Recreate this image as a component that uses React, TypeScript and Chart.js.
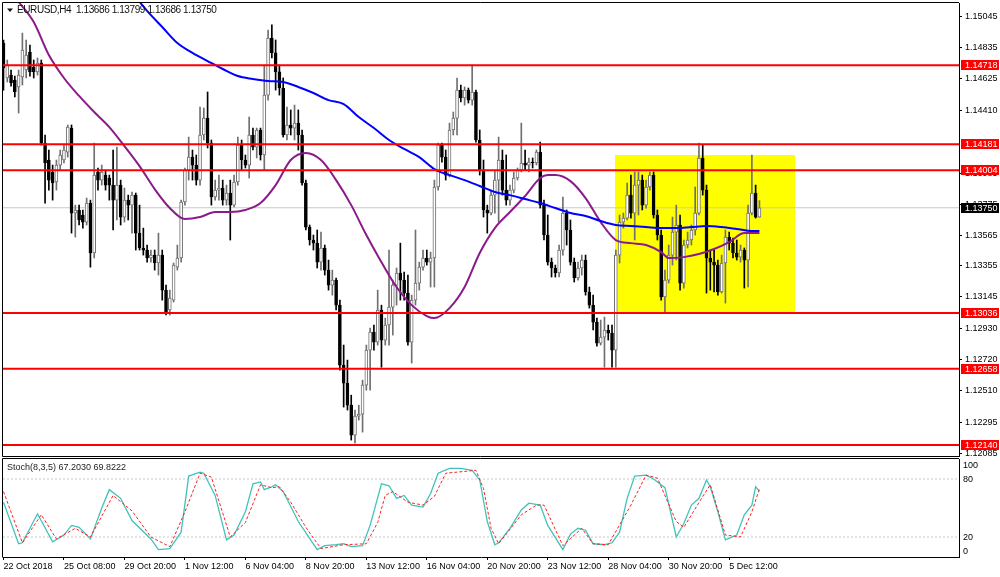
import React, { useEffect, useRef } from "react";
import { Chart, registerables } from "chart.js";

Chart.register(...registerables);

const FONT = "'Liberation Sans', Arial, sans-serif";

// ---- candle data (EURUSD H4) ----
const OPEN = [
  1.14868, 1.14631, 1.14651, 1.14617, 1.1457, 1.14638, 1.14685, 1.14807, 1.14705, 1.14672,
  1.14733, 1.14189, 1.14074, 1.13993, 1.13925, 1.1404, 1.14074, 1.14128, 1.14291, 1.13714,
  1.13735, 1.13701, 1.13653, 1.13782, 1.13443, 1.13993, 1.13938, 1.13972, 1.13952, 1.13904,
  1.13802, 1.13904, 1.13687, 1.13802, 1.13768, 1.13836, 1.13578, 1.13477, 1.13463, 1.13409,
  1.13429, 1.13375, 1.13429, 1.13191, 1.13056, 1.13123, 1.13347, 1.13409, 1.13789, 1.14006,
  1.14094, 1.1404, 1.13938, 1.14244, 1.14359, 1.14189, 1.13823, 1.1387, 1.13884, 1.13802,
  1.1385, 1.13768, 1.13925, 1.14176, 1.14074, 1.1404, 1.14244, 1.14162, 1.14278, 1.14108,
  1.14515, 1.14902, 1.14801, 1.14672, 1.14563, 1.14244, 1.14312, 1.14291, 1.14325, 1.14244,
  1.13918, 1.13619, 1.13531, 1.1351, 1.13381, 1.13477, 1.13327, 1.13225, 1.13259, 1.13089,
  1.12682, 1.1256, 1.1241, 1.12207, 1.12336, 1.12349, 1.12546, 1.12784, 1.12906, 1.12838,
  1.13056, 1.12852, 1.12954, 1.13076, 1.13225, 1.13307, 1.13259, 1.13171, 1.12838, 1.13123,
  1.13239, 1.13347, 1.13409, 1.13381, 1.13409, 1.13891, 1.14176, 1.14094, 1.13972, 1.14278,
  1.14359, 1.14549, 1.14495, 1.14549, 1.14481, 1.14536, 1.1421, 1.14006, 1.13735, 1.13714,
  1.13836, 1.13938, 1.14074, 1.1387, 1.13802, 1.1387, 1.13952, 1.14006, 1.14054, 1.1404,
  1.1406, 1.14054, 1.14128, 1.13768, 1.13565, 1.13381, 1.13341, 1.13307, 1.13463, 1.13714,
  1.13599, 1.13381, 1.13273, 1.13341, 1.13395, 1.13178, 1.13089, 1.12974, 1.12831, 1.12872,
  1.1292, 1.12899, 1.12784, 1.13429, 1.13653, 1.1368, 1.13836, 1.13714, 1.13904, 1.13938,
  1.13768, 1.13891, 1.13972, 1.13701, 1.13565, 1.13144, 1.13259, 1.13429, 1.13585, 1.13633,
  1.13239, 1.13497, 1.13531, 1.13599, 1.13714, 1.14088, 1.1387, 1.13409, 1.13381, 1.13361,
  1.13178, 1.13375, 1.13551, 1.1351, 1.13443, 1.13415, 1.13463, 1.13395, 1.13714, 1.1385,
  1.13686,
];
const HIGH = [
  1.14889, 1.14753, 1.14685, 1.14644, 1.14685, 1.14936, 1.14889, 1.14855, 1.14753, 1.14767,
  1.14753, 1.14244, 1.14142, 1.1404, 1.14074, 1.14142, 1.14176, 1.14312, 1.14312, 1.13768,
  1.13768, 1.13735, 1.13816, 1.13802, 1.14189, 1.1402, 1.1404, 1.14006, 1.13972, 1.14142,
  1.14162, 1.13938, 1.13884, 1.13836, 1.13857, 1.1385, 1.13768, 1.13612, 1.13497, 1.13463,
  1.13463, 1.13578, 1.13463, 1.13225, 1.13191, 1.13375, 1.13497, 1.13802, 1.1402, 1.1423,
  1.14142, 1.14108, 1.14434, 1.14427, 1.14536, 1.1421, 1.13938, 1.13972, 1.13938, 1.13904,
  1.13938, 1.13972, 1.1423, 1.1421, 1.14108, 1.14366, 1.14291, 1.14291, 1.14291, 1.14719,
  1.14957, 1.14991, 1.14889, 1.14719, 1.14631, 1.14434, 1.14414, 1.14447, 1.14414, 1.14278,
  1.13938, 1.13633, 1.13565, 1.13599, 1.13585, 1.13497, 1.13395, 1.13327, 1.13273, 1.13123,
  1.12818, 1.12716, 1.12478, 1.12377, 1.1241, 1.1258, 1.12818, 1.12933, 1.12954, 1.13191,
  1.13089, 1.13001, 1.13463, 1.13259, 1.13341, 1.1351, 1.13314, 1.13293, 1.13157, 1.13599,
  1.13381, 1.13463, 1.13463, 1.13449, 1.13938, 1.14189, 1.14189, 1.14142, 1.14325, 1.144,
  1.14631, 1.14583, 1.1457, 1.14563, 1.14719, 1.14549, 1.14278, 1.14074, 1.13768, 1.1387,
  1.14006, 1.1423, 1.14142, 1.14108, 1.13904, 1.13993, 1.1402, 1.14325, 1.14142, 1.14088,
  1.14088, 1.14142, 1.14196, 1.13802, 1.13701, 1.13409, 1.13361, 1.13497, 1.13823, 1.13735,
  1.13667, 1.13409, 1.13381, 1.13429, 1.13429, 1.13212, 1.13157, 1.13001, 1.12988, 1.13008,
  1.12954, 1.12954, 1.13463, 1.13701, 1.13714, 1.13918, 1.13972, 1.13993, 1.13993, 1.13972,
  1.13938, 1.13993, 1.13993, 1.13735, 1.13599, 1.13327, 1.13497, 1.13687, 1.13768, 1.13701,
  1.13531, 1.13585, 1.13633, 1.13891, 1.14189, 1.14176, 1.13904, 1.13463, 1.13463, 1.13395,
  1.13429, 1.13599, 1.13585, 1.13544, 1.13531, 1.13497, 1.13477, 1.13768, 1.14108, 1.13904,
  1.13799,
];
const LOW = [
  1.14549, 1.14604, 1.14576, 1.14502, 1.14393, 1.14583, 1.14631, 1.14644, 1.14631, 1.14651,
  1.14176, 1.13782, 1.1387, 1.13802, 1.1387, 1.14006, 1.14054, 1.14094, 1.13578, 1.13551,
  1.13633, 1.13612, 1.13633, 1.13347, 1.13409, 1.1387, 1.13904, 1.1387, 1.13802, 1.13599,
  1.13667, 1.13633, 1.13653, 1.13667, 1.13578, 1.13463, 1.13463, 1.13429, 1.13381, 1.13381,
  1.13327, 1.13293, 1.13123, 1.13022, 1.13022, 1.1311, 1.13327, 1.13381, 1.13768, 1.13938,
  1.13938, 1.13904, 1.13904, 1.1421, 1.14156, 1.13768, 1.13802, 1.13802, 1.13768, 1.13768,
  1.13531, 1.13755, 1.13904, 1.14006, 1.1402, 1.13952, 1.14142, 1.14088, 1.14074, 1.14006,
  1.14481, 1.14767, 1.14549, 1.14515, 1.1423, 1.1421, 1.14244, 1.1421, 1.14142, 1.13904,
  1.13599, 1.13497, 1.13463, 1.13341, 1.13327, 1.13293, 1.13191, 1.13157, 1.13056, 1.12648,
  1.12397, 1.12377, 1.12173, 1.12152, 1.12309, 1.12227, 1.12512, 1.12512, 1.12784, 1.12818,
  1.12668, 1.12818, 1.12818, 1.12886, 1.13089, 1.13123, 1.13123, 1.12818, 1.12696, 1.13089,
  1.13191, 1.13327, 1.13361, 1.13212, 1.13212, 1.1387, 1.1406, 1.13938, 1.13959, 1.14244,
  1.14244, 1.14468, 1.14447, 1.14461, 1.14447, 1.14196, 1.13972, 1.13687, 1.13578, 1.13701,
  1.13714, 1.13653, 1.13836, 1.13768, 1.13768, 1.1385, 1.13938, 1.13993, 1.14006, 1.13993,
  1.1402, 1.1404, 1.13748, 1.13531, 1.13361, 1.1328, 1.1328, 1.1328, 1.13429, 1.13497,
  1.13361, 1.13246, 1.13259, 1.13293, 1.13157, 1.13069, 1.1292, 1.12811, 1.12818, 1.12668,
  1.12852, 1.12668, 1.12668, 1.13375, 1.13612, 1.13667, 1.1368, 1.13531, 1.13701, 1.13735,
  1.13748, 1.1387, 1.1368, 1.13531, 1.13123, 1.13042, 1.13239, 1.13361, 1.13395, 1.13191,
  1.13205, 1.13477, 1.13497, 1.13565, 1.13701, 1.13836, 1.13171, 1.13191, 1.13178, 1.13157,
  1.13171, 1.13103, 1.13463, 1.13409, 1.13395, 1.13381, 1.13205, 1.13212, 1.13701, 1.1368,
  1.13686,
];
const CLOSE = [
  1.14699, 1.14719, 1.14597, 1.14536, 1.14651, 1.14821, 1.14787, 1.14672, 1.14672, 1.14733,
  1.14189, 1.14054, 1.13938, 1.13918, 1.1404, 1.14108, 1.14142, 1.14298, 1.13714, 1.13735,
  1.13667, 1.13653, 1.13782, 1.13443, 1.13972, 1.13938, 1.13993, 1.13904, 1.13904, 1.13802,
  1.13904, 1.13687, 1.13802, 1.13768, 1.13836, 1.13578, 1.13477, 1.13463, 1.13409, 1.13429,
  1.13375, 1.13429, 1.13191, 1.13042, 1.13137, 1.13361, 1.13409, 1.13789, 1.14006, 1.14094,
  1.1404, 1.13938, 1.14244, 1.14359, 1.14189, 1.13823, 1.1387, 1.13884, 1.13802, 1.1385,
  1.13768, 1.13925, 1.14176, 1.14074, 1.1404, 1.14244, 1.14162, 1.14278, 1.14108, 1.14515,
  1.14902, 1.14801, 1.14672, 1.14563, 1.14244, 1.14312, 1.14291, 1.14325, 1.14244, 1.13918,
  1.13619, 1.13531, 1.1351, 1.13381, 1.13477, 1.13327, 1.13225, 1.13259, 1.13089, 1.12682,
  1.1256, 1.1241, 1.12207, 1.12336, 1.12349, 1.12546, 1.12784, 1.12906, 1.12838, 1.13056,
  1.12852, 1.12954, 1.13076, 1.13225, 1.13307, 1.13259, 1.13171, 1.12838, 1.13123, 1.13239,
  1.13347, 1.13409, 1.13381, 1.13409, 1.13891, 1.14176, 1.14094, 1.13972, 1.14278, 1.14359,
  1.14549, 1.14495, 1.14549, 1.14481, 1.14536, 1.1421, 1.14006, 1.13735, 1.13714, 1.13836,
  1.13938, 1.14074, 1.1387, 1.13802, 1.1387, 1.13952, 1.14006, 1.14054, 1.1404, 1.1406,
  1.14054, 1.14128, 1.13768, 1.13565, 1.13381, 1.13341, 1.13307, 1.13463, 1.13714, 1.13599,
  1.13381, 1.13273, 1.13341, 1.13395, 1.13178, 1.13089, 1.12974, 1.12831, 1.12872, 1.1292,
  1.12899, 1.12784, 1.13429, 1.13653, 1.1368, 1.13836, 1.13714, 1.13904, 1.13938, 1.13768,
  1.13891, 1.13972, 1.13701, 1.13565, 1.13144, 1.13259, 1.13429, 1.13585, 1.13633, 1.13239,
  1.13497, 1.13531, 1.13599, 1.13714, 1.14088, 1.1387, 1.13409, 1.13381, 1.13361, 1.13178,
  1.13375, 1.13551, 1.1351, 1.13443, 1.13415, 1.13463, 1.13395, 1.13714, 1.1385, 1.13687,
  1.1375,
];

// ---- moving averages (sampled at bar indexes) ----
const MA_BLUE_IDX = [
  34, 38, 42, 46, 50, 54, 58, 62, 66, 70, 74, 78, 82, 86, 90, 94, 98, 102, 106, 110, 114, 118,
  122, 126, 130, 134, 138, 142, 146, 150, 154, 158, 162, 166, 170, 174, 178, 182, 186, 190, 194,
  198, 200,
];
const MA_BLUE = [
  1.15214, 1.15086, 1.14977, 1.14868, 1.14801, 1.14746, 1.14692, 1.14644, 1.14624, 1.1461,
  1.14604, 1.1457, 1.14529, 1.14481, 1.14454, 1.14366, 1.14291, 1.1421, 1.14149, 1.14094,
  1.14013, 1.13972, 1.13938, 1.13898, 1.13857, 1.13836, 1.13809, 1.13782, 1.13748, 1.13714,
  1.13694, 1.1366, 1.13633, 1.13626, 1.13619, 1.13612, 1.13612, 1.13619, 1.13626, 1.13619,
  1.13606, 1.13592, 1.13592,
];
const MA_PURPLE_IDX = [
  0, 4, 8, 12, 16, 20, 24, 28, 32, 36, 40, 44, 48, 52, 56, 60, 64, 68, 72, 76, 80, 84, 88, 92,
  96, 100, 104, 108, 112, 114, 118, 122, 126, 130, 134, 138, 142, 144, 146, 150, 154, 158, 162,
  166, 170, 174, 176, 180, 184, 188, 192, 196, 200,
];
const MA_PURPLE = [
  1.15262, 1.15147, 1.15011, 1.14787, 1.14631, 1.14509, 1.144, 1.14298, 1.14169, 1.14033,
  1.13877, 1.13748, 1.13673, 1.13687, 1.13721, 1.13721, 1.13735, 1.13782, 1.13904, 1.14074,
  1.14122, 1.14074, 1.13938, 1.13768, 1.13565, 1.13381, 1.13212, 1.13089, 1.13015, 1.13001,
  1.13069, 1.13212, 1.13443, 1.13612, 1.13721, 1.1383, 1.13952, 1.13972, 1.13972, 1.13931,
  1.13816, 1.13653, 1.13531, 1.1351, 1.13497, 1.13449, 1.13409, 1.13415, 1.13436, 1.1347,
  1.13517, 1.13578, 1.13578,
];

// ---- stochastic (8,3,5) ----
const STOCH_K_IDX = [
  0, 4, 5, 9, 13, 16, 18, 20, 23, 26, 28, 31, 34, 39, 41, 44, 47, 49, 52, 53, 56, 59, 61, 64,
  66, 68, 69, 71, 72, 74, 78, 83, 85, 88, 90, 92, 95, 97, 100, 102, 104, 106, 108, 111, 113,
  115, 118, 121, 124, 126, 128, 130, 131, 134, 137, 139, 142, 144, 148, 150, 152, 154, 156,
  159, 161, 163, 165, 167, 170, 172, 175, 178, 180, 182, 184, 186, 187, 189, 191, 194, 196,
  198, 199, 200,
];
const STOCH_K = [
  56, 13, 14, 44, 15, 22, 32, 30, 18, 50, 69, 60, 37, 18, 7, 8, 25, 83, 87, 86, 63, 17, 22, 46,
  75, 77, 69, 72, 74, 67, 36, 7, 11, 12, 13, 10, 11, 32, 75, 73, 60, 63, 53, 51, 65, 86, 91, 91,
  89, 79, 36, 12, 14, 29, 48, 55, 53, 32, 7, 23, 29, 27, 13, 12, 14, 25, 60, 83, 84, 80, 71, 20,
  34, 53, 60, 79, 72, 46, 17, 22, 43, 53, 72, 67.203,
];
const STOCH_D_IDX = [
  0, 5, 10, 14, 19, 23, 29, 34, 39, 44, 48, 52, 55, 60, 64, 68, 71, 73, 76, 80, 84, 90, 96, 99,
  101, 103, 107, 111, 114, 117, 125, 127, 129, 131, 137, 141, 143, 148, 153, 156, 160, 166, 170,
  173, 178, 180, 185, 187, 191, 195, 198, 200,
];
const STOCH_D = [
  67, 14, 43, 18, 29, 20, 63, 47, 20, 10, 46, 86, 82, 20, 35, 74, 71, 72, 56, 30, 8, 12, 13, 35,
  63, 67, 56, 53, 62, 86, 89, 70, 29, 13, 43, 53, 53, 11, 29, 13, 12, 53, 84, 81, 36, 30, 62, 74,
  22, 20, 46, 69.8222,
];
const STOCH_LEVELS = [80, 20];
const STOCH_AXIS_LABELS = [100, 80, 20, 0];

// ---- levels, ticks, labels ----
const LEVELS = [1.14718, 1.14181, 1.14004, 1.13036, 1.12658, 1.1214];
const CURRENT_PRICE = 1.1375;
const PRICE_TICKS = [
  1.15045, 1.14835, 1.14625, 1.1441, 1.13985, 1.13775, 1.13565, 1.13355, 1.13145,
  1.1293, 1.1272, 1.1251, 1.12295, 1.12085,
];
const TIME_TICK_IDX = [0, 16, 32, 48, 64, 80, 96, 112, 128, 144, 160, 176, 192];
const TIME_LABELS = [
  "22 Oct 2018", "25 Oct 08:00", "29 Oct 20:00", "1 Nov 12:00", "6 Nov 04:00", "8 Nov 20:00",
  "13 Nov 12:00", "16 Nov 04:00", "20 Nov 20:00", "23 Nov 12:00", "28 Nov 04:00",
  "30 Nov 20:00", "5 Dec 12:00",
];
const BOX_X = [161.8, 209.5];
const BOX_PRICE = [1.14108, 1.13042];
const TITLE = "EURUSD,H4  1.13686 1.13799 1.13686 1.13750";
const STOCH_TITLE = "Stoch(8,3,5) 67.2030 69.8222";

const X_MIN = -0.13;
const X_MAX = 252.8;
const Y_MIN = 1.12065;
const Y_MAX = 1.1514;
const S_MIN = -0.7;
const S_MAX = 100.7;

const BULL_GRAY = "#707070";

const mainDecor = {
  id: "mainDecor",
  beforeDatasetsDraw(chart: any) {
    const { ctx, chartArea: ca } = chart;
    const xs = chart.scales.x;
    const ys = chart.scales.y;
    ctx.save();
    ctx.beginPath();
    ctx.rect(ca.left, ca.top, ca.right - ca.left, ca.bottom - ca.top);
    ctx.clip();
    const l = Math.round(xs.getPixelForValue(BOX_X[0]));
    const r = Math.round(xs.getPixelForValue(BOX_X[1]));
    const t = Math.round(ys.getPixelForValue(BOX_PRICE[0]));
    const b = Math.round(ys.getPixelForValue(BOX_PRICE[1]));
    ctx.fillStyle = "#ffff00";
    ctx.fillRect(l, t, r - l, b - t);
    ctx.restore();
  },
  afterDraw(chart: any) {
    const { ctx, chartArea: ca } = chart;
    const ys = chart.scales.y;
    ctx.save();
    ctx.strokeStyle = "#000";
    ctx.lineWidth = 1;
    ctx.beginPath();
    ctx.moveTo(ca.right, ca.top - 0.5);
    ctx.lineTo(ca.left - 0.5, ca.top - 0.5);
    ctx.lineTo(ca.left - 0.5, ca.bottom + 0.5);
    ctx.lineTo(ca.right, ca.bottom + 0.5);
    ctx.stroke();

    const box = (v: number, bg: string) => {
      const py = Math.round(ys.getPixelForValue(v));
      ctx.fillStyle = bg;
      ctx.fillRect(ca.right + 2, py - 5, 38, 10);
      ctx.fillStyle = "#fff";
      ctx.font = `9px ${FONT}`;
      ctx.textBaseline = "middle";
      ctx.textAlign = "left";
      ctx.fillText(v.toFixed(5), ca.right + 6, py + 0.5);
    };
    LEVELS.forEach((v) => box(v, "#ff0000"));
    box(CURRENT_PRICE, "#000000");

    // title
    ctx.fillStyle = "#111";
    ctx.beginPath();
    ctx.moveTo(7, 8.5);
    ctx.lineTo(13, 8.5);
    ctx.lineTo(10, 12);
    ctx.closePath();
    ctx.fill();
    ctx.font = `10px ${FONT}`;
    ctx.textBaseline = "middle";
    ctx.textAlign = "left";
    (ctx as any).letterSpacing = "-0.4px";
    ctx.fillText(TITLE, 17, 10.5);
    (ctx as any).letterSpacing = "0px";
    ctx.restore();
  },
};

const stochDecor = {
  id: "stochDecor",
  afterDraw(chart: any) {
    const { ctx, chartArea: ca } = chart;
    const ys = chart.scales.y;
    ctx.save();
    ctx.strokeStyle = "#000";
    ctx.lineWidth = 1;
    ctx.beginPath();
    ctx.moveTo(ca.right, ca.top - 0.5);
    ctx.lineTo(ca.left - 0.5, ca.top - 0.5);
    ctx.lineTo(ca.left - 0.5, ca.bottom + 0.5);
    ctx.stroke();
    ctx.fillStyle = "#222";
    ctx.font = `9px ${FONT}`;
    ctx.textBaseline = "middle";
    ctx.textAlign = "left";
    ctx.fillText(STOCH_TITLE, 7, ca.top + 8.5);
    ctx.fillStyle = "#000";
    STOCH_AXIS_LABELS.forEach((v) => {
      let py = ys.getPixelForValue(v);
      py = Math.max(ca.top + 6, Math.min(ca.bottom - 6, py));
      ctx.fillText(String(v), ca.right + 4, py + 0.5);
    });
    ctx.restore();
  },
};

export default function App() {
  const mainRef = useRef<HTMLCanvasElement>(null);
  const stochRef = useRef<HTMLCanvasElement>(null);

  useEffect(() => {
    const idx = OPEN.map((_, i) => i);
    const bull = (i: number) => CLOSE[i] >= OPEN[i];

    const wickData = idx.map((i) => ({ x: i, y: [LOW[i], HIGH[i]] }));
    const bodyData = idx.map((i) => ({ x: i, y: [OPEN[i], CLOSE[i]] }));
    const hLine = (v: number) => [
      { x: X_MIN, y: v },
      { x: X_MAX, y: v },
    ];

    const levelSets = LEVELS.map((v) => ({
      type: "line",
      data: hLine(v),
      borderColor: "#ff0000",
      borderWidth: 2,
      pointRadius: 0,
      order: 0,
    }));

    const main = new Chart(mainRef.current as HTMLCanvasElement, {
      type: "bar",
      data: {
        datasets: [
          ...levelSets,
          {
            type: "line",
            data: MA_BLUE_IDX.map((x, k) => ({ x, y: MA_BLUE[k] })),
            borderColor: "#0000ff",
            borderWidth: 2,
            pointRadius: 0,
            cubicInterpolationMode: "monotone",
            order: 1,
          },
          {
            type: "line",
            data: MA_PURPLE_IDX.map((x, k) => ({ x, y: MA_PURPLE[k] })),
            borderColor: "#8b1a8b",
            borderWidth: 2,
            pointRadius: 0,
            cubicInterpolationMode: "monotone",
            order: 1,
          },
          {
            type: "bar",
            data: bodyData,
            backgroundColor: idx.map((i) => (bull(i) ? "#ffffff" : "#000000")),
            borderColor: idx.map((i) => (bull(i) ? BULL_GRAY : "#000000")),
            borderWidth: 1,
            borderSkipped: false,
            barThickness: 3,
            minBarLength: 1,
            grouped: false,
            order: 2,
          },
          {
            type: "bar",
            data: wickData,
            backgroundColor: idx.map((i) => (bull(i) ? BULL_GRAY : "#000000")),
            borderWidth: 0,
            barThickness: 1,
            grouped: false,
            order: 3,
          },
          {
            type: "line",
            data: hLine(CURRENT_PRICE),
            borderColor: "#c8c8c8",
            borderWidth: 1,
            pointRadius: 0,
            order: 4,
          },
        ] as any,
      },
      options: {
        animation: false,
        responsive: false,
        devicePixelRatio: 1,
        events: [],
        layout: { padding: { left: 3, top: 3, right: 0, bottom: 2 } },
        plugins: { legend: { display: false }, tooltip: { enabled: false } },
        scales: {
          x: {
            type: "linear",
            min: X_MIN,
            max: X_MAX,
            offset: false,
            display: false,
          },
          y: {
            position: "right",
            min: Y_MIN,
            max: Y_MAX,
            afterBuildTicks: (s: any) => {
              s.ticks = PRICE_TICKS.map((v) => ({ value: v }));
            },
            afterFit: (s: any) => {
              s.width = 41;
              s.paddingTop = 0;
              s.paddingBottom = 0;
            },
            ticks: {
              autoSkip: false,
              padding: 3,
              color: "#000",
              font: { family: FONT, size: 9 },
              callback: (v: any) => Number(v).toFixed(5),
            },
            grid: {
              drawOnChartArea: false,
              drawTicks: true,
              tickLength: 3,
              color: "#000",
              tickColor: "#000",
            },
            border: { display: true, color: "#000", width: 1 },
          },
        },
      } as any,
      plugins: [mainDecor],
    });

    const stoch = new Chart(stochRef.current as HTMLCanvasElement, {
      type: "line",
      data: {
        datasets: [
          {
            data: STOCH_K_IDX.map((x, k) => ({ x, y: STOCH_K[k] })),
            borderColor: "#3fc3ba",
            borderWidth: 1.3,
            pointRadius: 0,
            tension: 0,
            order: 1,
          },
          {
            data: STOCH_D_IDX.map((x, k) => ({ x, y: STOCH_D[k] })),
            borderColor: "#ff2020",
            borderWidth: 1,
            borderDash: [3, 2],
            pointRadius: 0,
            tension: 0,
            order: 0,
          },
          ...STOCH_LEVELS.map((v) => ({
            data: hLine(v),
            borderColor: "#c8c8c8",
            borderWidth: 1,
            borderDash: [2, 2],
            pointRadius: 0,
            order: 5,
          })),
        ] as any,
      },
      options: {
        animation: false,
        responsive: false,
        devicePixelRatio: 1,
        events: [],
        layout: { padding: { left: 3, top: 9, right: 0, bottom: 0 } },
        plugins: { legend: { display: false }, tooltip: { enabled: false } },
        scales: {
          x: {
            type: "linear",
            min: X_MIN,
            max: X_MAX,
            offset: false,
            afterBuildTicks: (s: any) => {
              s.ticks = TIME_TICK_IDX.map((v) => ({ value: v }));
            },
            afterFit: (s: any) => {
              s.height = 20;
              s.paddingLeft = 0;
              s.paddingRight = 0;
            },
            ticks: {
              autoSkip: false,
              maxRotation: 0,
              minRotation: 0,
              align: "start",
              padding: 1,
              color: "#000",
              font: { family: FONT, size: 9 },
              callback: (_v: any, i: number) => TIME_LABELS[i],
            },
            grid: {
              drawOnChartArea: false,
              drawTicks: true,
              tickLength: 3,
              color: "#000",
              tickColor: "#000",
            },
            border: { display: true, color: "#000", width: 1 },
          },
          y: {
            position: "right",
            min: S_MIN,
            max: S_MAX,
            afterFit: (s: any) => {
              s.width = 41;
              s.paddingTop = 0;
              s.paddingBottom = 0;
            },
            ticks: { display: false },
            grid: { display: false },
            border: { display: true, color: "#000", width: 1 },
          },
        },
      } as any,
      plugins: [stochDecor],
    });

    return () => {
      main.destroy();
      stoch.destroy();
    };
  }, []);

  return (
    <div
      style={{
        position: "fixed",
        left: 0,
        top: 0,
        width: 1000,
        height: 577,
        background: "#fff",
        overflow: "hidden",
      }}
    >
      <canvas
        ref={mainRef}
        width={1000}
        height={458}
        style={{ position: "absolute", left: 0, top: 0, width: 1000, height: 458 }}
      />
      <canvas
        ref={stochRef}
        width={1000}
        height={127}
        style={{ position: "absolute", left: 0, top: 450, width: 1000, height: 127 }}
      />
    </div>
  );
}
